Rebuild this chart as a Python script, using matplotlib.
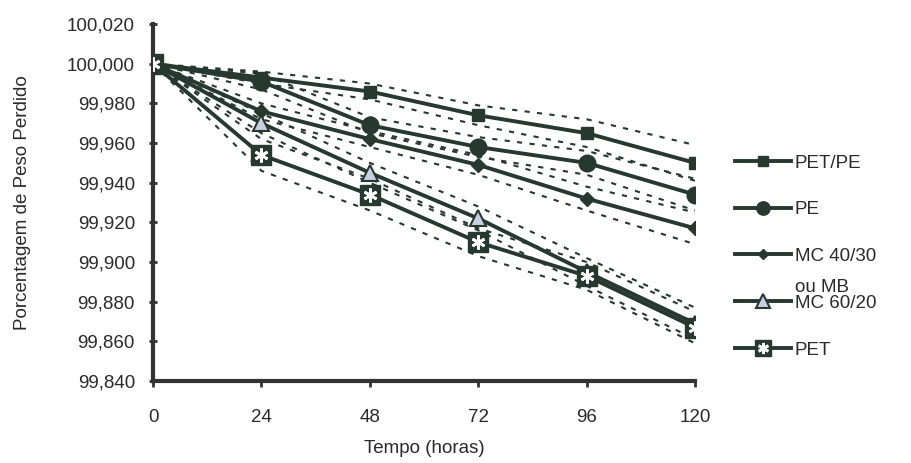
import matplotlib
matplotlib.use("Agg")
import matplotlib.pyplot as plt
from matplotlib.lines import Line2D
from matplotlib.legend_handler import HandlerTuple
from matplotlib.ticker import FuncFormatter

plt.rcParams['font.family'] = ['Liberation Sans', 'DejaVu Sans']

# ---- data ----
tempo = [0, 24, 48, 72, 96, 120]
labels = ["PET/PE", "PE", "MC 40/30", "MC 60/20", "PET"]
pet_pe = [100.000, 99.993, 99.986, 99.974, 99.965, 99.950]
pe = [100.000, 99.991, 99.969, 99.958, 99.950, 99.934]
mc4030 = [100.000, 99.976, 99.962, 99.949, 99.932, 99.917]
mc6020 = [100.000, 99.970, 99.945, 99.922, 99.895, 99.869]
pet = [100.000, 99.954, 99.934, 99.910, 99.893, 99.867]
# half-width of the dashed bands around each series
err_pet_pe = [0.000, 0.003, 0.004, 0.005, 0.007, 0.009]
err_pe = [0.000, 0.004, 0.004, 0.005, 0.006, 0.008]
err_mc4030 = [0.000, 0.004, 0.004, 0.005, 0.006, 0.008]
err_mc6020 = [0.000, 0.005, 0.005, 0.006, 0.007, 0.008]
err_pet = [0.000, 0.008, 0.008, 0.007, 0.007, 0.008]
yticks = [99.840, 99.860, 99.880, 99.900, 99.920, 99.940, 99.960, 99.980, 100.000, 100.020]
extra_label = "ou MB"

series = [pet_pe, pe, mc4030, mc6020, pet]
errs = [err_pet_pe, err_pe, err_mc4030, err_mc6020, err_pet]

dark = '#263830'
txt = '#2a2a2a'
fs = 13.5

fig = plt.figure(figsize=(9.11, 4.63), dpi=100)
ax = fig.add_axes([0.168, 0.177, 0.595, 0.771])

# dashed bands
for s, e in zip(series, errs):
    up = [v + d for v, d in zip(s, e)]
    lo = [v - d for v, d in zip(s, e)]
    for b in (up, lo):
        ax.plot(tempo, b, color=dark, lw=1.5, ls=(0, (2.5, 3.5)), zorder=2)

styles = [
    dict(marker='s', ms=9, mfc=dark, mec=dark),
    dict(marker='o', ms=12, mfc=dark, mec=dark),
    dict(marker='D', ms=7, mfc=dark, mec=dark),
    dict(marker='^', ms=12, mfc='#c9cfe2', mec=dark, mew=1.5),
    dict(marker='s', ms=14, mfc=dark, mec=dark),
]
handles = []
for i, (s, st) in enumerate(zip(series, styles)):
    h, = ax.plot(tempo, s, color=dark, lw=2.8, zorder=3 + i, **st)
    handles.append(h)
# white asterisk on PET markers
ast, = ax.plot(tempo, pet, ls='none', marker=(6, 2, 0), ms=10, mec='white', mew=2.0, zorder=9)

ax.set_xlim(0, 120)
ax.set_ylim(yticks[0], yticks[-1])
ax.set_xticks(tempo)
ax.set_yticks(yticks)
ax.yaxis.set_major_formatter(FuncFormatter(lambda v, p: f"{v:.3f}".replace('.', ',')))
for sp in ('top', 'right'):
    ax.spines[sp].set_visible(False)
for sp in ('left', 'bottom'):
    ax.spines[sp].set_linewidth(3)
    ax.spines[sp].set_color('#333333')
ax.tick_params(axis='x', direction='out', length=4, width=2, colors='#333333', pad=16,
               labelsize=fs, labelcolor=txt)
ax.tick_params(axis='y', direction='inout', length=6, width=2, colors='#333333', pad=10,
               labelsize=fs, labelcolor=txt)
ax.set_xlabel("Tempo (horas)", fontsize=fs, color=txt, labelpad=10)
ax.set_ylabel("Porcentagem de Peso Perdido", fontsize=fs, color=txt, labelpad=26)

# legend
leg_handles = handles[:4] + [(handles[4], ast)]
leg = fig.legend(leg_handles, labels, loc='upper left', bbox_to_anchor=(0.788, 0.703),
                 frameon=False, fontsize=fs, handlelength=3.0, handletextpad=0.2,
                 labelspacing=1.58, labelcolor=txt, markerscale=0.8,
                 handler_map={tuple: HandlerTuple(ndivide=1)})
fig.canvas.draw()
# "ou MB" line between MC 40/30 and MC 60/20
t3 = leg.get_texts()[2].get_window_extent()
t4 = leg.get_texts()[3].get_window_extent()
inv = fig.transFigure.inverted()
x0, y3 = inv.transform((t3.x0, (t3.y0 + t3.y1) / 2))
_, y4 = inv.transform((t4.x0, (t4.y0 + t4.y1) / 2))
fig.text(x0, y4 + (y3 - y4) * 0.33, extra_label, fontsize=fs, color=txt, va='center', ha='left')

fig.savefig("out.png", dpi=100)
